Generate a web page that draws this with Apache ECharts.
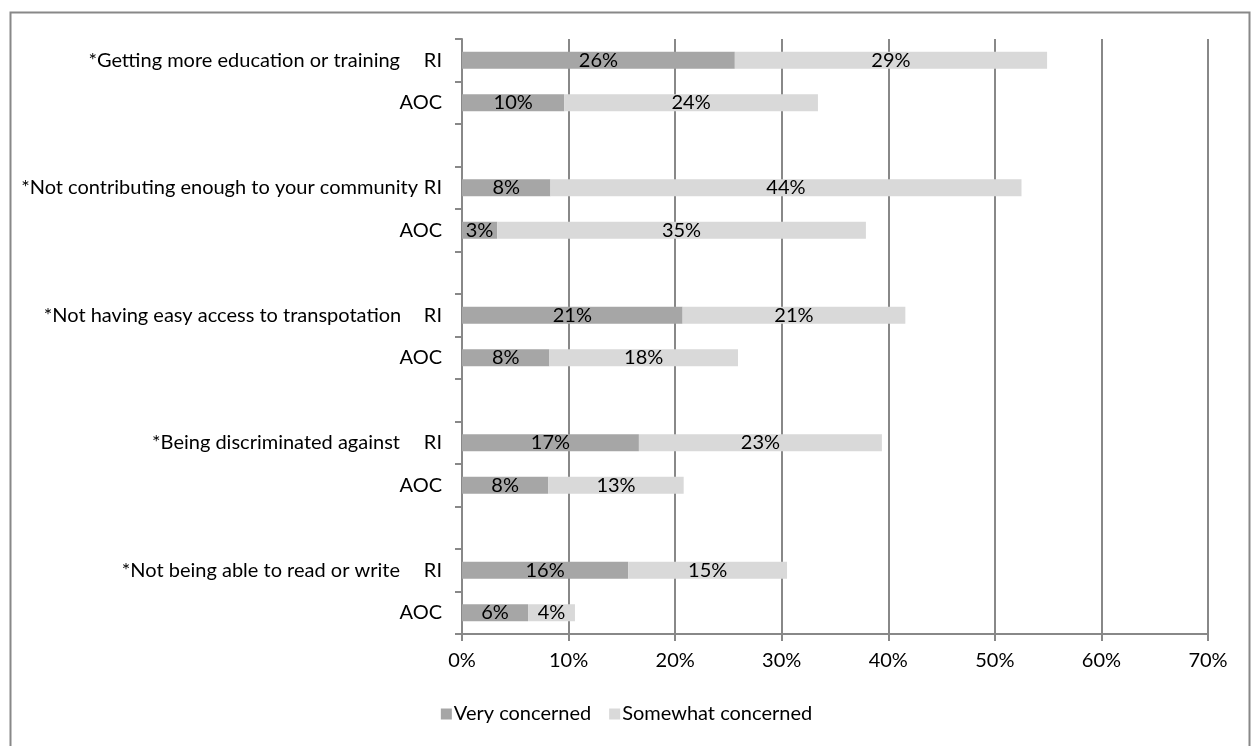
<!DOCTYPE html>
<html>
<head>
<meta charset="utf-8">
<script src="https://cdn.jsdelivr.net/npm/echarts@6/dist/echarts.min.js"></script>
<style>
html,body{margin:0;padding:0;background:#fff;}
#chart{width:1253px;height:746px;}
</style>
</head>
<body>
<div id="chart"></div>
<script>
// ---- data ----
const groups = [
  '*Getting more education or training',
  '*Not contributing enough to your community',
  '*Not having easy access to transpotation',
  '*Being discriminated against',
  '*Not being able to read or write'
];
const subgroups = ['RI', 'AOC'];
const seriesNames = ['Very concerned', 'Somewhat concerned'];
const veryRI = [25.6, 8.3, 20.7, 16.6, 15.6];
const veryAOC = [9.6, 3.3, 8.2, 8.1, 6.2];
const somewhatRI = [29.3, 44.2, 20.9, 22.8, 14.9];
const somewhatAOC = [23.8, 34.6, 17.7, 12.7, 4.4];
const xTicks = [0, 10, 20, 30, 40, 50, 60, 70];

// ---- build category rows (RI, AOC, spacer) ----
const FONT = 'Lato, "Open Sans", sans-serif';
const FS = 20;
const rows = [];
const veryVals = [];
const someVals = [];
groups.forEach((g, i) => {
  rows.push({ group: g, sub: subgroups[0] });
  veryVals.push(veryRI[i]); someVals.push(somewhatRI[i]);
  rows.push({ group: '', sub: subgroups[1] });
  veryVals.push(veryAOC[i]); someVals.push(somewhatAOC[i]);
  if (i < groups.length - 1) {
    rows.push({ group: '', sub: '' });
    veryVals.push(null); someVals.push(null);
  }
});
const catIdx = rows.map((r, i) => String(i));

// measure group labels to mimic Excel's centring of labels wider than their region
const ctx = document.createElement('canvas').getContext('2d');
ctx.font = FS + 'px ' + FONT;
const REGION = 355, SUBW = 42;
const rich = {
  s: { width: SUBW, align: 'right', fontSize: FS, fontFamily: FONT, color: '#000' }
};
const groupStyle = {};
rows.forEach((r, i) => {
  if (!r.group) return;
  const w = ctx.measureText(r.group).width;
  let sw = SUBW;
  if (w > REGION) sw = Math.max(SUBW - (w - REGION) / 2, 24);
  const key = 'g' + i, skey = 's' + i;
  rich[key] = { fontSize: FS, fontFamily: FONT, color: '#000' };
  rich[skey] = { width: sw, align: 'right', fontSize: FS, fontFamily: FONT, color: '#000' };
  groupStyle[i] = [key, skey];
});

const labelFmt = p => Math.round(p.value) + '%';

const chart = echarts.init(document.getElementById('chart'));
chart.setOption({
  animation: false,
  backgroundColor: '#fff',
  textStyle: { fontFamily: FONT },
  graphic: [{
    type: 'rect', left: 8, top: 10, silent: true,
    shape: { width: 1239, height: 760 },
    style: { fill: 'none', stroke: '#888', lineWidth: 2 }
  }],
  grid: { left: 462, right: 45, top: 39, bottom: 112, containLabel: false },
  legend: {
    bottom: 17, left: 'center',
    icon: 'rect', itemWidth: 11, itemHeight: 11, itemGap: 18,
    textStyle: { fontSize: FS, fontFamily: FONT, color: '#000', padding: [0, 0, 0, -3] },
    data: seriesNames
  },
  xAxis: {
    type: 'value', min: xTicks[0], max: xTicks[xTicks.length - 1], interval: 10,
    axisLine: { show: true, lineStyle: { color: '#888', width: 2 } },
    axisTick: { show: true, length: 7, lineStyle: { color: '#888', width: 2 } },
    axisLabel: { formatter: '{value}%', fontSize: FS, fontFamily: FONT, color: '#000', margin: 17 },
    splitLine: { show: true, lineStyle: { color: '#888', width: 2 } }
  },
  yAxis: {
    type: 'category', inverse: true, data: catIdx,
    axisLine: { show: true, lineStyle: { color: '#888', width: 2 } },
    axisTick: { show: true, length: 7, inside: false, lineStyle: { color: '#888', width: 2 }, interval: 0 },
    axisLabel: {
      interval: 0, margin: 20, fontSize: FS, fontFamily: FONT, color: '#000',
      rich: rich,
      formatter: (v) => {
        const i = Number(v); const r = rows[i];
        if (!r.sub) return '';
        if (r.group) {
          const [gk, sk] = groupStyle[i];
          return '{' + gk + '|' + r.group + '}{' + sk + '|' + r.sub + '}';
        }
        return '{s|' + r.sub + '}';
      }
    },
    splitLine: { show: false }
  },
  series: [
    {
      name: seriesNames[0], type: 'bar', stack: 'total', barWidth: 17,
      itemStyle: { color: '#a6a6a6' },
      label: { show: true, position: 'inside', formatter: labelFmt, color: '#000', fontSize: FS, fontFamily: FONT },
      data: veryVals
    },
    {
      name: seriesNames[1], type: 'bar', stack: 'total', barWidth: 17,
      itemStyle: { color: '#d9d9d9' },
      label: { show: true, position: 'inside', formatter: labelFmt, color: '#000', fontSize: FS, fontFamily: FONT },
      data: someVals
    }
  ]
});
</script>
</body>
</html>
